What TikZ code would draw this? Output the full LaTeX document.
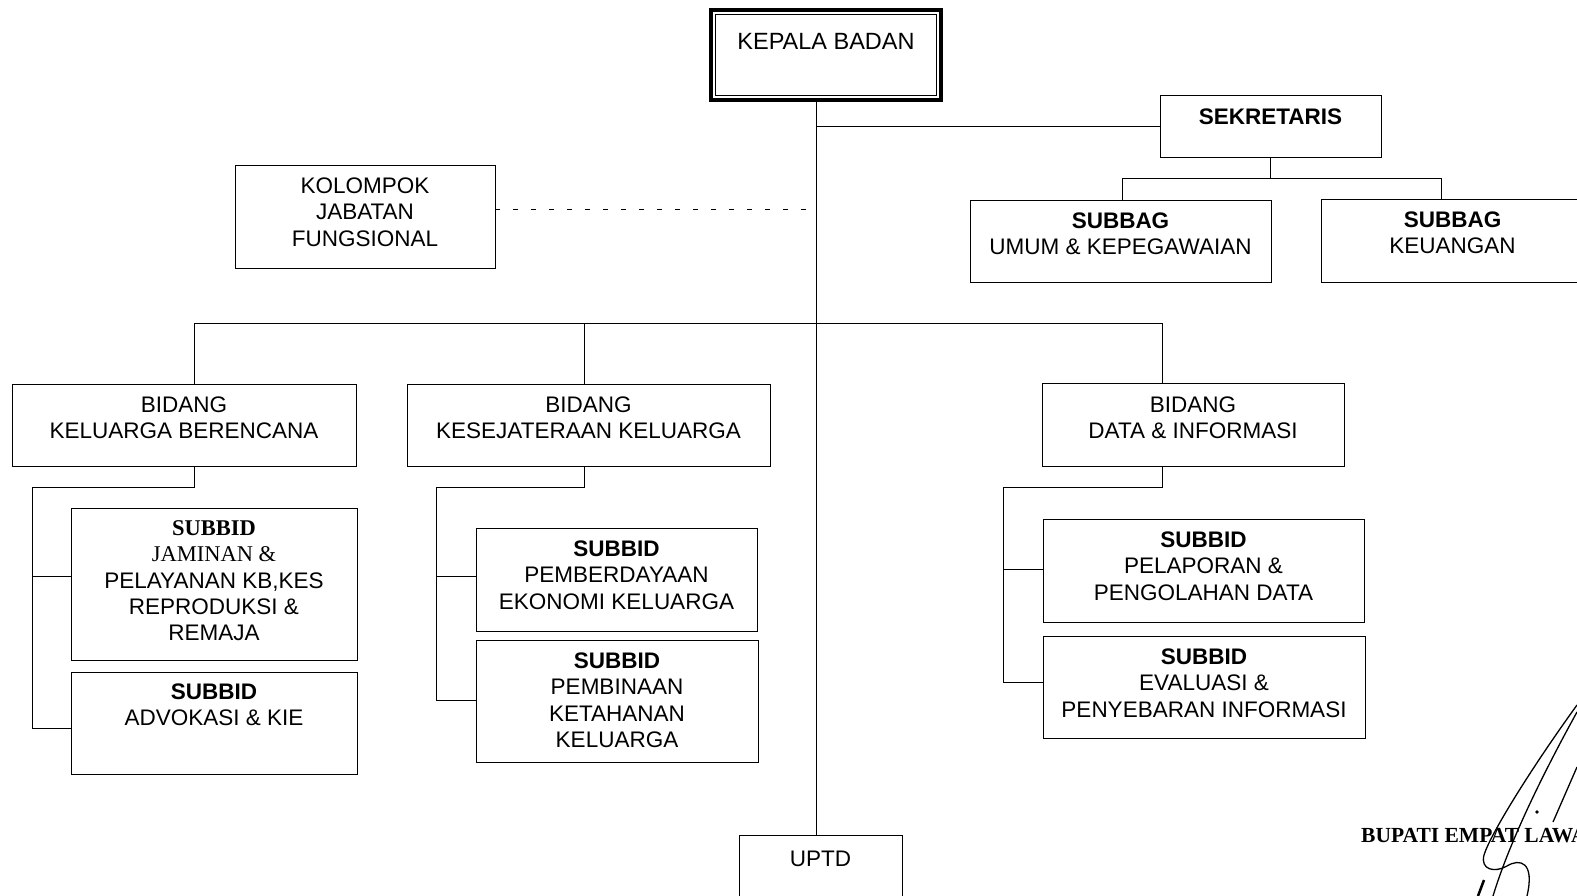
\documentclass[tikz,border=0pt]{standalone}
\usepackage{fontspec}
\setmainfont{Liberation Sans}
\newfontfamily\timesfont{Liberation Serif}
\usetikzlibrary{positioning}

\tikzset{
    box/.style={draw, line width=0.9pt, inner sep=0pt},
    txt/.style={align=center, inner sep=0pt, font=\fontsize{22.5}{26.3}\selectfont},
    link/.style={line width=0.9pt},
}

\begin{document}
\begin{tikzpicture}[x=1pt, y=-1pt]
        \useasboundingbox (0,0) rectangle (1577,896);
        \clip (0,0) rectangle (1577,896);

        % pimpinan
        \node[box, line width=3.5pt, minimum width=230pt, minimum height=90pt] (kepala) at (826,55) {};
        \draw[line width=0.9pt] ([shift={(6pt,-6pt)}]kepala.north west) rectangle ([shift={(-6pt,6pt)}]kepala.south east);
        \node[txt, font=\fontsize{23.5}{27}\selectfont, below=25pt of kepala.north] (kepala-t) {KEPALA BADAN};

        % sekretariat
        \node[box, minimum width=221pt, minimum height=62pt] (sek) at (1270.5,126) {};
        \node[txt, below=14pt of sek.north] (sek-t) {\textbf{SEKRETARIS}};
        \node[box, minimum width=301pt, minimum height=82pt] (umum) at (1120.5,241) {};
        \node[txt, below=13pt of umum.north] (umum-t) {\textbf{SUBBAG}\\UMUM \& KEPEGAWAIAN};
        \node[box, minimum width=279pt, minimum height=83pt] (keu) at (1460.5,240.5) {};
        \node[txt, below=13pt of keu.north, xshift=-8pt] (keu-t) {\textbf{SUBBAG}\\KEUANGAN};

        % jabatan fungsional
        \node[box, minimum width=260pt, minimum height=103pt] (kjf) at (365,216.5) {};
        \node[txt, below=13pt of kjf.north] (kjf-t) {KOLOMPOK\\JABATAN\\FUNGSIONAL};

        % bidang
        \node[box, minimum width=344pt, minimum height=82pt] (kb) at (184,425) {};
        \node[txt, below=13pt of kb.north] (kb-t) {BIDANG\\KELUARGA BERENCANA};
        \node[box, minimum width=363pt, minimum height=82pt] (kes) at (588.5,425) {};
        \node[txt, below=13pt of kes.north] (kes-t) {BIDANG\\KESEJATERAAN KELUARGA};
        \node[box, minimum width=302pt, minimum height=83pt] (data) at (1193,424.5) {};
        \node[txt, below=14pt of data.north] (data-t) {BIDANG\\DATA \& INFORMASI};

        % subbid keluarga berencana
        \node[box, minimum width=286pt, minimum height=152pt] (jam) at (214,584) {};
        \node[txt, below=13pt of jam.north] (jam-t) {{\timesfont\bfseries SUBBID}\\{\timesfont JAMINAN \&}\\PELAYANAN KB,KES\\REPRODUKSI \&\\REMAJA};
        \node[box, minimum width=286pt, minimum height=102pt] (adv) at (214,723) {};
        \node[txt, below=12pt of adv.north] (adv-t) {\textbf{SUBBID}\\ADVOKASI \& KIE};

        % subbid kesejahteraan
        \node[box, minimum width=281pt, minimum height=103pt] (pem) at (616.5,579.5) {};
        \node[txt, below=13pt of pem.north] (pem-t) {\textbf{SUBBID}\\PEMBERDAYAAN\\EKONOMI KELUARGA};
        \node[box, minimum width=282pt, minimum height=122pt] (bin) at (617,701) {};
        \node[txt, below=13pt of bin.north] (bin-t) {\textbf{SUBBID}\\PEMBINAAN\\KETAHANAN\\KELUARGA};

        % subbid data
        \node[box, minimum width=321pt, minimum height=103pt] (lap) at (1203.5,570.5) {};
        \node[txt, below=13pt of lap.north] (lap-t) {\textbf{SUBBID}\\PELAPORAN \&\\PENGOLAHAN DATA};
        \node[box, minimum width=322pt, minimum height=102pt] (eva) at (1204,687) {};
        \node[txt, below=13pt of eva.north] (eva-t) {\textbf{SUBBID}\\EVALUASI \&\\PENYEBARAN INFORMASI};

        % uptd
        \node[box, minimum width=163pt, minimum height=105pt] (uptd) at (820.5,887.5) {};
        \node[txt, below=16pt of uptd.north] (uptd-t) {UPTD};

        % garis komando
        \coordinate (trunk) at (816,100);
        \coordinate (kjf-r) at (495,209);
        \draw[link] (trunk) -- (trunk |- uptd.north);
        \draw[link] (sek.west) -- (sek.west -| trunk);
        \draw[link, dash pattern=on 5pt off 13pt] (kjf-r) -- (kjf-r -| trunk);

        \draw[link] (sek.south) -- ++(0,21) coordinate (sek-b);
        \draw[link] (umum.north -| 1122,0) coordinate (umum-n) -- (umum-n |- sek-b) -- (sek-b -| 1441,0) coordinate (keu-n) -- (keu-n |- keu.north);

        % bus bidang
        \coordinate (bus-l) at (194,323);
        \coordinate (bus-m) at (584,323);
        \coordinate (bus-r) at (1162,323);
        \draw[link] (bus-l |- kb.north) -- (bus-l) -- (bus-r) -- (bus-r |- data.north);
        \draw[link] (bus-m) -- (bus-m |- kes.north);

        % cabang keluarga berencana
        \coordinate (kb-a) at (194,487);
        \coordinate (kb-b) at (32,487);
        \draw[link] (kb-a |- kb.south) -- (kb-a) -- (kb-b) -- (32,728) -- (adv.west |- 0,728);
        \draw[link] (32,576) -- (jam.west |- 0,576);

        % cabang kesejahteraan
        \coordinate (kes-a) at (584,487);
        \coordinate (kes-b) at (436,487);
        \draw[link] (kes-a |- kes.south) -- (kes-a) -- (kes-b) -- (436,700) -- (bin.west |- 0,700);
        \draw[link] (436,576) -- (pem.west |- 0,576);

        % cabang data
        \coordinate (data-a) at (1162,487);
        \coordinate (data-b) at (1003.5,487);
        \draw[link] (data-a |- data.south) -- (data-a) -- (data-b) -- (1003.5,682) -- (eva.west |- 0,682);
        \draw[link] (1003.5,569) -- (lap.west |- 0,569);

        % pengesahan
        \node[anchor=west, inner sep=0pt, font=\timesfont\bfseries\fontsize{21.5}{24}\selectfont] (bupati) at (1361,836) {BUPATI EMPAT LAWANG};
        \draw[line width=1.3pt] (1577,705) .. controls (1530,770) and (1490,835) .. (1484,855)
            .. controls (1480,870) and (1495,873) .. (1507,866)
            .. controls (1520,858) and (1535,862) .. (1527,896);
        \draw[line width=1.3pt] (1577,712) .. controls (1545,770) and (1510,840) .. (1493,896);
        \draw[line width=1.3pt] (1577,767) -- (1553,822);
        \draw[line width=2.5pt] (1484,880) -- (1478,896);
        \fill (1537,812) circle (1.8pt);
    \end{tikzpicture}
\end{document}
